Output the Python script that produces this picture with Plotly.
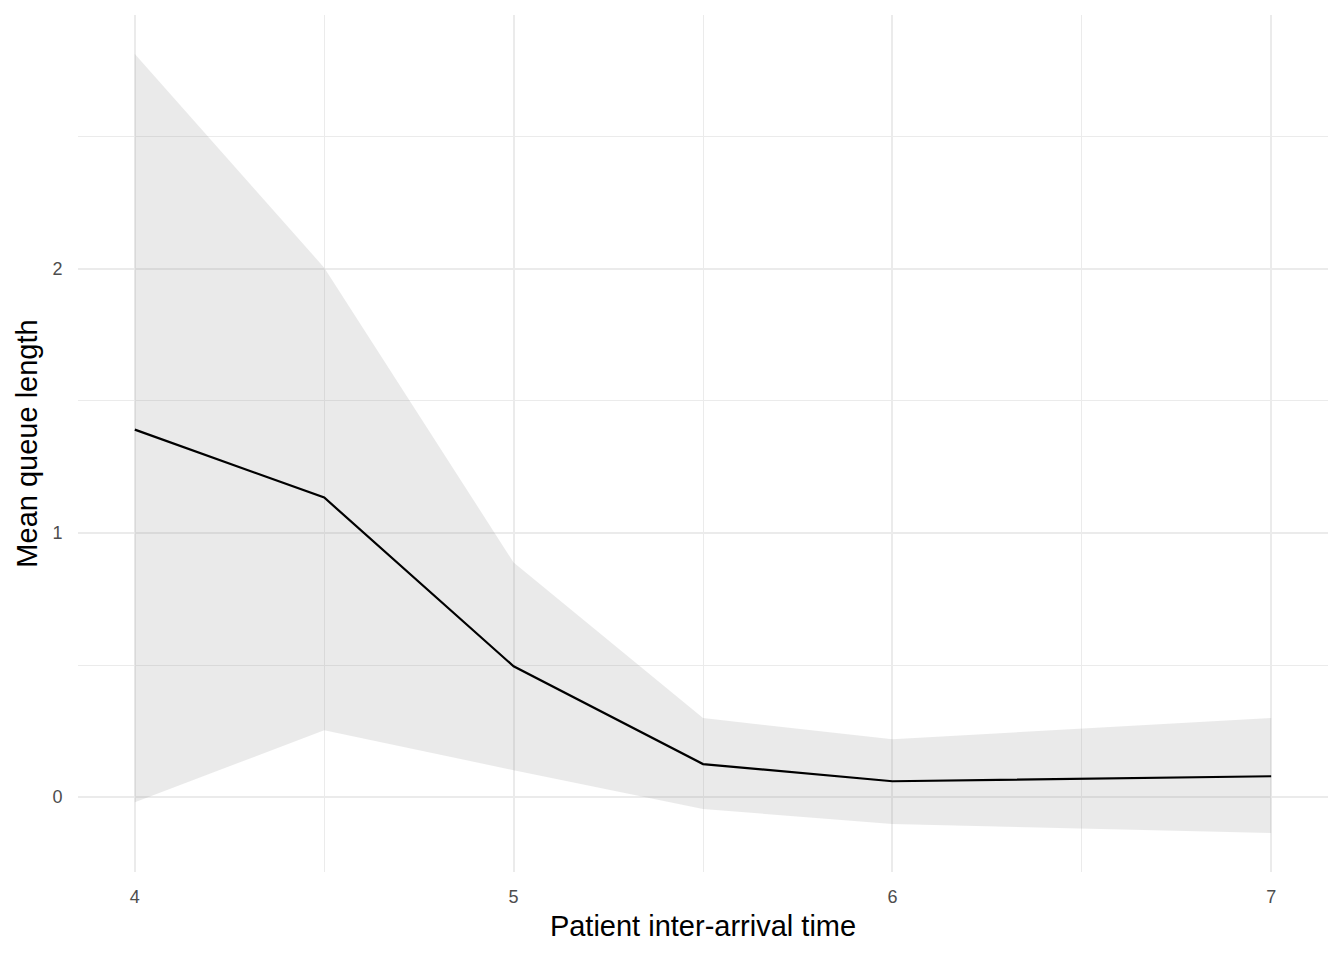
import plotly.graph_objects as go

inter_arrival = [4.0, 4.5, 5.0, 5.5, 6.0, 7.0]
mean_queue = [1.391, 1.134, 0.495, 0.125, 0.060, 0.079]
upper_ci = [2.813, 2.004, 0.888, 0.299, 0.219, 0.299]
lower_ci = [-0.019, 0.253, 0.102, -0.045, -0.102, -0.136]

x_ticks = [4, 5, 6, 7]
y_ticks = [0, 1, 2]

fig = go.Figure()
fig.add_trace(go.Scatter(x=inter_arrival, y=upper_ci, mode="lines",
                         line=dict(width=0, color="rgba(0,0,0,0)"),
                         showlegend=False, hoverinfo="skip"))
fig.add_trace(go.Scatter(x=inter_arrival, y=lower_ci, mode="lines",
                         line=dict(width=0, color="rgba(0,0,0,0)"),
                         fill="tonexty", fillcolor="rgba(128,128,128,0.17)",
                         showlegend=False, hoverinfo="skip"))
fig.add_trace(go.Scatter(x=inter_arrival, y=mean_queue, mode="lines",
                         line=dict(width=2.2, color="black"),
                         showlegend=False))

xmin, xmax = min(inter_arrival), max(inter_arrival)
xpad = (xmax - xmin) * 0.05
ymin, ymax = min(lower_ci), max(upper_ci)
ypad = (ymax - ymin) * 0.05

tickfont = dict(family="Liberation Sans, Arial, sans-serif", size=18, color="#4D4D4D")
titlefont = dict(family="Liberation Sans, Arial, sans-serif", size=29, color="black")

fig.update_layout(
    width=1344, height=960,
    paper_bgcolor="white", plot_bgcolor="white",
    margin=dict(l=78, r=16, t=15, b=88),
    xaxis=dict(
        range=[xmin - xpad, xmax + xpad],
        tickvals=x_ticks, ticktext=[str(v) for v in x_ticks],
        showgrid=True, gridcolor="#EBEBEB", gridwidth=2,
        minor=dict(dtick=0.5, showgrid=True, gridcolor="#EBEBEB", gridwidth=1),
        zeroline=False, showline=False,
        ticks="outside", ticklen=0, ticklabelstandoff=8,
        tickfont=tickfont,
        title=dict(text="Patient inter-arrival time", font=titlefont, standoff=10),
    ),
    yaxis=dict(
        range=[ymin - ypad, ymax + ypad],
        tickvals=y_ticks, ticktext=[str(v) for v in y_ticks],
        showgrid=True, gridcolor="#EBEBEB", gridwidth=2,
        minor=dict(dtick=0.5, showgrid=True, gridcolor="#EBEBEB", gridwidth=1),
        zeroline=False, showline=False,
        ticks="outside", ticklen=0, ticklabelstandoff=11,
        tickfont=tickfont,
        title=dict(text="Mean queue length", font=titlefont, standoff=6),
    ),
)

fig.write_html("out.html", config={"displayModeBar": False},
               post_script="document.body.style.margin='0';")
